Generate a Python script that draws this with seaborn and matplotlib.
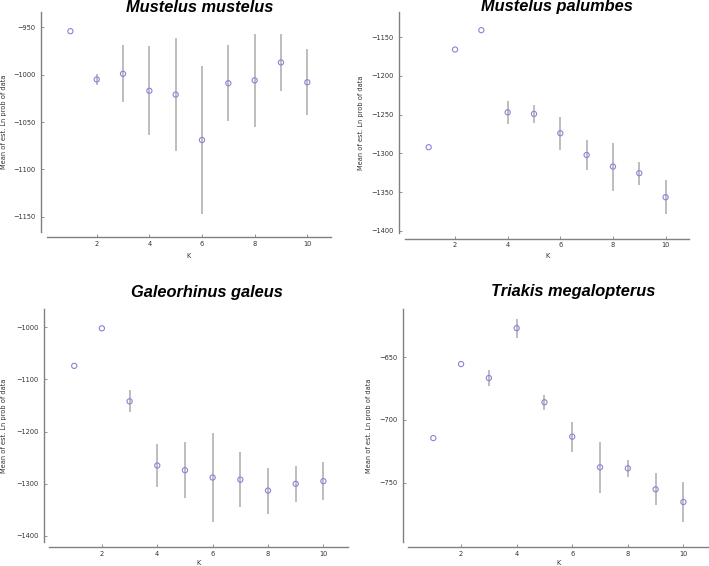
import numpy as np
import pandas as pd
import matplotlib
matplotlib.use("Agg")
import matplotlib.pyplot as plt
from matplotlib.ticker import MultipleLocator
import seaborn as sns

# ---- data ----
K = [1, 2, 3, 4, 5, 6, 7, 8, 9, 10]

titles = ["Mustelus mustelus", "Mustelus palumbes", "Galeorhinus galeus", "Triakis megalopterus"]

mm_mean = [-954, -1005, -999, -1017, -1021, -1069, -1009, -1006, -987, -1008]
mm_sd = [0, 6, 30, 47, 60, 78, 40, 49, 30.5, 35]

mp_mean = [-1292, -1166, -1141, -1247, -1249, -1274, -1302, -1317, -1325.5, -1356.5]
mp_sd = [0, 0, 0, 15, 12, 21, 19, 31, 15, 22]

gg_mean = [-1074, -1002, -1142, -1265, -1274, -1288, -1292, -1313, -1300, -1295]
gg_sd = [0, 0, 21, 41.5, 54, 85, 52, 44, 34, 37]

tm_mean = [-714.5, -655.6, -666.7, -627, -686, -713.4, -737.8, -738.6, -755.3, -765.4]
tm_sd = [0, 0, 6.6, 7.5, 6, 12, 20.5, 6.5, 12.6, 16]

y_label = "Mean of est. Ln prob of data"
x_label = "K"

means = [mm_mean, mp_mean, gg_mean, tm_mean]
sds = [mm_sd, mp_sd, gg_sd, tm_sd]

# ---- style ----
sns.set_style("ticks", {"xtick.direction": "in", "ytick.direction": "in"})
plt.rcParams["font.family"] = ["DejaVu Sans"]

W, H = 709, 566
fig = plt.figure(figsize=(W / 100, H / 100), dpi=100)

def px_rect(x0, y0, x1, y1):
    return [x0 / W, 1 - y1 / H, (x1 - x0) / W, (y1 - y0) / H]

rects = [px_rect(46.7, 12.3, 331, 231.7),
         px_rect(405, 12.3, 689.3, 233.3),
         px_rect(49.3, 309, 348.3, 541.7),
         px_rect(408.3, 309.3, 708.4, 541.7)]
ylims = [(-1166, -934), (-1403, -1118), (-1411, -965), (-797, -612)]
ysteps = [50, 50, 100, 50]
ylab_dx = [39.5, 40.8, 42.1, 36.8]
xlab_dy = [21.5, 20.2, 18.5, 18.5]
title_pos = [(200, 11.5), (556.8, 11.5), (206.5, 297), (573, 296)]

spine_c = "#808080"
err_c = "#ababab"
mk_c = "#8585d6"

for i in range(4):
    ax = fig.add_axes(rects[i])
    df = pd.DataFrame({"K": K, "mean": means[i], "sd": sds[i]})
    ax.errorbar(df["K"], df["mean"], yerr=df["sd"], fmt="none",
                ecolor=err_c, elinewidth=1.1, capsize=0, zorder=2)
    sns.scatterplot(data=df, x="K", y="mean", ax=ax, marker="o", s=14,
                    facecolor="none", edgecolor=mk_c, linewidth=0.8, zorder=3)
    ax.set_xlim(0.1, 10.9)
    ax.set_ylim(*ylims[i])
    ax.xaxis.set_major_locator(MultipleLocator(2))
    ax.yaxis.set_major_locator(MultipleLocator(ysteps[i]))
    ax.set_xlabel(x_label, fontsize=4.8, color="#333333")
    ax.set_ylabel(y_label, fontsize=4.8, color="#333333")
    w_px = rects[i][2] * W
    h_px = rects[i][3] * H
    ax.yaxis.set_label_coords(-ylab_dx[i] / w_px, 0.5)
    ax.xaxis.set_label_coords(0.5, -xlab_dy[i] / h_px)
    sns.despine(ax=ax, offset=4)
    for s in ("left", "bottom"):
        ax.spines[s].set_color(spine_c)
        ax.spines[s].set_linewidth(1.0)
    ax.tick_params(axis="both", labelsize=4.8, labelcolor="#333333",
                   color=spine_c, length=2, width=0.6)
    ax.tick_params(axis="x", pad=2.5)
    ax.tick_params(axis="y", pad=4)
    tx, ty = title_pos[i]
    fig.text(tx / W, 1 - ty / H, titles[i], ha="center", va="baseline",
             fontsize=11.8, fontweight="bold", fontstyle="italic",
             family=["Liberation Sans", "DejaVu Sans"], color="black")

fig.savefig("out.png", dpi=100)
